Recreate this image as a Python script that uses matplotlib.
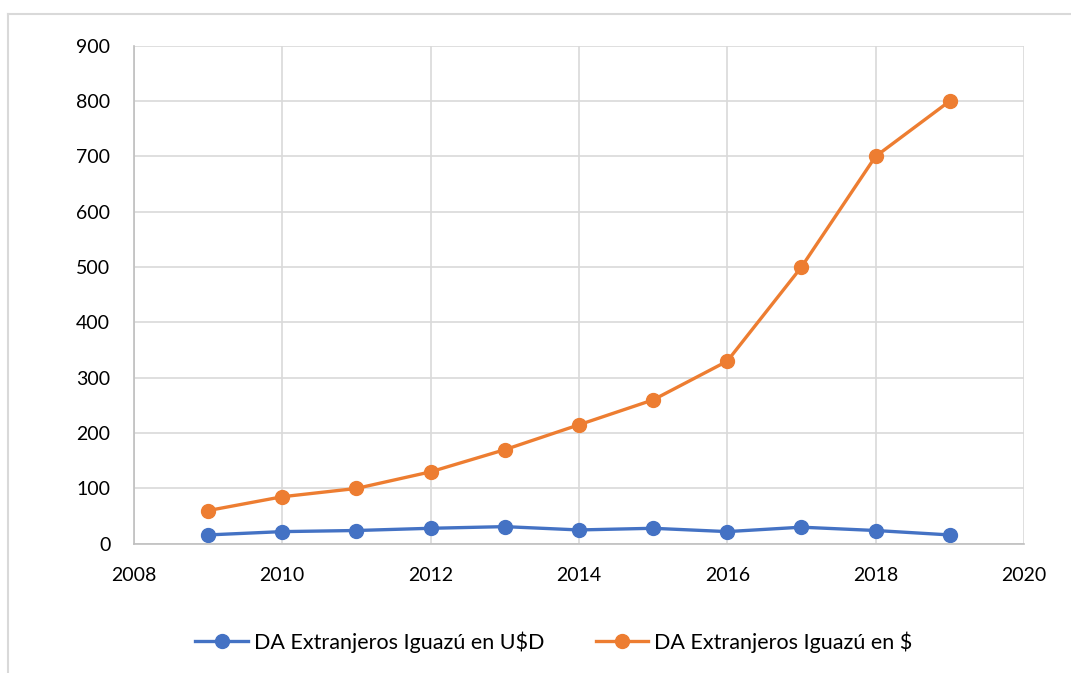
import matplotlib.pyplot as plt
from matplotlib.lines import Line2D

# data
years = [2009, 2010, 2011, 2012, 2013, 2014, 2015, 2016, 2017, 2018, 2019]
usd = [16, 22, 24, 28, 31, 25, 28, 22, 30, 24, 16]
pesos = [60, 85, 100, 130, 170, 215, 260, 330, 500, 700, 800]
labels = ["DA Extranjeros Iguazú en U$D", "DA Extranjeros Iguazú en $"]

plt.rcParams['font.family'] = ['Lato', 'DejaVu Sans']

fig = plt.figure(figsize=(10.71, 6.73), dpi=100)
ax = fig.add_axes([0.125, 0.192, 0.831, 0.740])

ax.plot(years, usd, color="#4472C4", lw=2.4, marker="o", ms=10, label=labels[0])
ax.plot(years, pesos, color="#ED7D31", lw=2.4, marker="o", ms=10, label=labels[1])

ax.set_xlim(2008, 2020)
ax.set_ylim(0, 900)
ax.set_xticks(range(2008, 2021, 2))
ax.set_yticks(range(0, 901, 100))
ax.grid(True, color="#D9D9D9", lw=1.2)
ax.set_axisbelow(True)
for s in ["top", "right"]:
    ax.spines[s].set_visible(False)
for s in ["left", "bottom"]:
    ax.spines[s].set_color("#BFBFBF")
    ax.spines[s].set_linewidth(1.2)
ax.tick_params(length=0, labelsize=14)
ax.tick_params(axis="x", pad=17)
ax.tick_params(axis="y", pad=17)

fig.legend(loc="center", bbox_to_anchor=(0.517, 0.046), ncol=2, frameon=False,
           fontsize=15.5, handlelength=2.45, handletextpad=0.25, columnspacing=2.4)

# outer chart frame (only top and left edges are visible in the crop)
x0, y0 = 8 / 1071, 1 - 14 / 673
fig.add_artist(Line2D([x0, 1], [y0, y0], transform=fig.transFigure, color="#D9D9D9", lw=1.5))
fig.add_artist(Line2D([x0, x0], [0, y0], transform=fig.transFigure, color="#D9D9D9", lw=1.5))

plt.savefig("out.png")
